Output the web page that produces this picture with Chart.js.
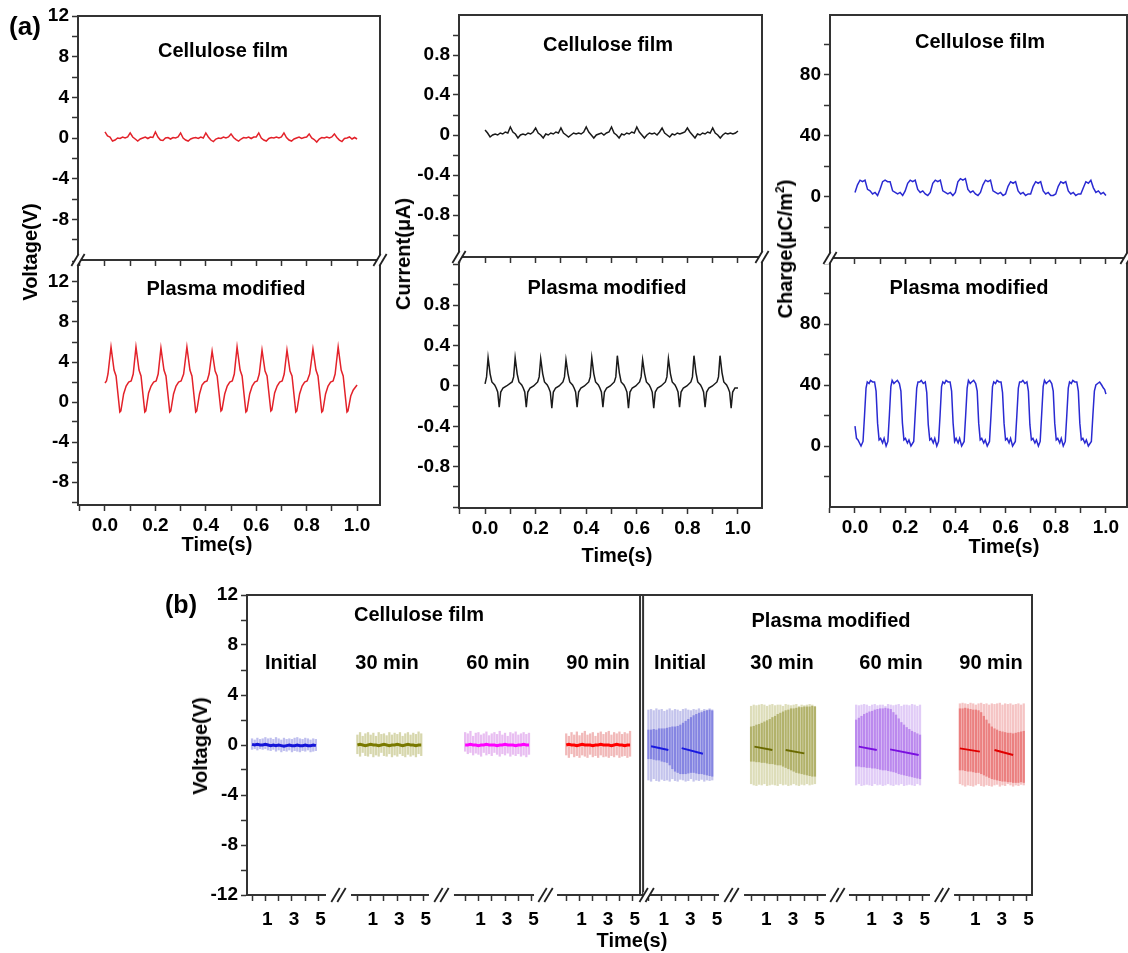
<!DOCTYPE html>
<html><head><meta charset="utf-8">
<script src="https://cdn.jsdelivr.net/npm/chart.js@4.4.1/dist/chart.umd.min.js"></script>
<style>
html,body{margin:0;padding:0;background:#fff;width:1128px;height:953px;overflow:hidden;position:relative;}
canvas{position:absolute;}
.t{position:absolute;font-family:'Liberation Sans',Arial,sans-serif;font-weight:bold;color:#000;white-space:nowrap;transform:translate(-50%,-50%);line-height:1;font-size:20px;z-index:5;}
.v{transform:translate(-50%,-50%) rotate(-90deg);}
sup{font-size:0.6em;vertical-align:0.7em;line-height:0;}
</style></head><body>
<div class="t" style="left:25px;top:26px;font-size:26px">(a)</div>
<div class="t" style="left:223px;top:50px">Cellulose film</div>
<div class="t" style="left:226px;top:288px">Plasma modified</div>
<div class="t" style="left:608px;top:44px">Cellulose film</div>
<div class="t" style="left:607px;top:287px">Plasma modified</div>
<div class="t" style="left:980px;top:41px">Cellulose film</div>
<div class="t" style="left:969px;top:287px">Plasma modified</div>
<div class="t v" style="left:30px;top:252px">Voltage(V)</div>
<div class="t v" style="left:403px;top:254px">Current(μA)</div>
<div class="t v" style="left:785px;top:249px">Charge(μC/m<sup>2</sup>)</div>
<div class="t" style="left:217px;top:544px">Time(s)</div>
<div class="t" style="left:617px;top:555px">Time(s)</div>
<div class="t" style="left:1004px;top:546px">Time(s)</div>
<div class="t" style="left:181px;top:604px;font-size:25px">(b)</div>
<div class="t" style="left:419px;top:614px">Cellulose film</div>
<div class="t" style="left:831px;top:620px">Plasma modified</div>
<div class="t" style="left:291px;top:662px">Initial</div>
<div class="t" style="left:387px;top:662px">30 min</div>
<div class="t" style="left:498px;top:662px">60 min</div>
<div class="t" style="left:598px;top:662px">90 min</div>
<div class="t" style="left:680px;top:662px">Initial</div>
<div class="t" style="left:782px;top:662px">30 min</div>
<div class="t" style="left:891px;top:662px">60 min</div>
<div class="t" style="left:991px;top:662px">90 min</div>
<div class="t v" style="left:200px;top:746px">Voltage(V)</div>
<div class="t" style="left:632px;top:940px">Time(s)</div>
<script>
// ================= DATA (a) =================
const timeGrid = Array.from({length:101}, (_, i) => +(i * 0.01).toFixed(2));
const cellVoltage = [0.6,0.2,0.1,-0.3,-0.2,0.0,-0.05,0.1,0.0,0.1,
 0.5,0.1,-0.1,-0.3,-0.1,0.0,0.1,-0.05,0.1,0.05,
 0.6,0.1,-0.2,-0.25,0.0,0.05,-0.1,0.05,0.0,0.1,
 0.5,0.0,-0.2,-0.3,-0.1,0.0,0.05,-0.05,0.1,0.0,
 0.5,0.1,-0.2,-0.35,-0.1,0.0,-0.05,0.1,0.0,0.1,
 0.4,0.05,-0.15,-0.3,-0.1,0.05,0.0,0.1,-0.05,0.1,
 0.1,0.5,0.0,-0.2,-0.3,-0.05,0.05,0.0,0.1,0.0,
 0.1,0.5,0.05,-0.2,-0.3,-0.1,0.0,0.1,-0.05,0.05,
 0.1,0.4,0.0,-0.15,-0.4,-0.1,0.05,0.0,0.1,0.0,
 0.1,0.4,0.05,-0.2,-0.35,-0.05,0.0,0.1,-0.1,0.05,
 -0.1];
const cellCurrent = [0.05,0.02,-0.02,0.0,0.01,0.0,0.02,0.01,0.03,0.02,
 0.08,0.03,0.01,-0.03,0.0,0.01,0.0,0.02,0.01,0.03,
 0.07,0.02,0.0,-0.03,0.01,0.0,0.02,0.01,0.03,0.02,
 0.07,0.02,0.0,-0.02,0.0,0.02,0.01,0.02,0.01,0.03,
 0.08,0.03,0.0,-0.03,0.0,0.01,0.02,0.0,0.02,0.03,
 0.08,0.02,0.0,-0.03,0.01,0.0,0.02,0.01,0.03,0.02,
 0.08,0.03,0.0,-0.03,0.0,0.02,0.01,0.02,0.0,0.03,
 0.07,0.02,0.0,-0.02,0.01,0.0,0.02,0.01,0.02,0.03,
 0.07,0.03,0.0,-0.03,0.01,0.0,0.02,0.01,0.03,0.02,
 0.07,0.02,0.0,-0.03,0.0,0.02,0.01,0.02,0.01,0.02,
 0.04];
const cellCharge = [3,8,11,10,11,5,4,2,3,1,
 5,10,11,10,10,4,3,2,3,1,
 4,9,11,10,11,5,3,4,2,1,
 3,9,11,10,11,4,3,2,3,1,
 3,10,12,11,12,5,3,4,2,1,
 3,8,11,10,11,4,3,2,3,1,
 2,7,10,9,10,4,2,3,1,2,
 2,7,10,9,10,4,2,3,1,1,
 2,7,10,9,10,4,2,3,1,2,
 2,6,10,9,11,6,3,4,2,3,
 1];
const plasmaVoltTime = [0.000,0.006,0.012,
 0.024,0.036,0.044,0.059,0.063,0.074,0.084,0.094,0.104,0.112,
 0.123,0.135,0.143,0.158,0.162,0.173,0.183,0.193,0.203,0.211,
 0.222,0.234,0.242,0.257,0.261,0.272,0.282,0.292,0.302,0.312,
 0.325,0.337,0.345,0.360,0.364,0.375,0.385,0.395,0.405,0.413,
 0.425,0.437,0.445,0.460,0.464,0.475,0.485,0.495,0.505,0.513,
 0.524,0.536,0.544,0.559,0.563,0.574,0.584,0.594,0.604,0.612,
 0.623,0.635,0.643,0.658,0.662,0.673,0.683,0.693,0.703,0.711,
 0.722,0.734,0.742,0.757,0.761,0.772,0.782,0.792,0.802,0.812,
 0.825,0.837,0.845,0.860,0.864,0.875,0.885,0.895,0.905,0.913,
 0.925,0.937,0.945,0.960,0.964,0.975,0.985,1.000];
const plasmaVoltValue = [1.9,2.1,2.8,
 5.5,3.2,2.6,-1.0,-0.9,0.8,1.6,2.0,2.1,2.8,
 5.5,3.2,2.6,-1.0,-0.9,0.9,1.6,2.0,2.1,2.8,
 5.4,3.2,2.6,-1.0,-0.9,0.8,1.6,2.0,2.1,2.8,
 5.5,3.2,2.6,-1.0,-0.9,0.8,1.7,2.0,2.1,2.8,
 5.1,3.1,2.6,-0.9,-0.8,0.8,1.6,2.0,2.1,2.8,
 5.5,3.2,2.6,-1.0,-0.9,0.8,1.6,2.0,2.1,2.8,
 5.2,3.1,2.6,-0.9,-0.8,0.9,1.6,2.0,2.1,2.8,
 5.2,3.1,2.6,-1.0,-0.9,0.8,1.6,2.0,2.1,2.8,
 5.3,3.2,2.6,-1.0,-0.9,0.8,1.6,2.0,2.1,2.8,
 5.5,3.2,2.6,-1.0,-0.9,0.6,1.2,1.7];
const plasmaCurrTime = [0.000,0.006,
 0.012,0.020,0.027,0.038,0.044,0.050,0.056,0.062,0.071,0.085,0.107,0.113,
 0.119,0.127,0.134,0.145,0.151,0.157,0.163,0.169,0.178,0.192,0.208,0.214,
 0.220,0.228,0.235,0.246,0.252,0.258,0.264,0.270,0.279,0.293,0.308,0.314,
 0.320,0.328,0.335,0.346,0.352,0.358,0.364,0.370,0.379,0.393,0.410,0.416,
 0.422,0.430,0.437,0.448,0.454,0.460,0.466,0.472,0.481,0.495,0.511,0.517,
 0.523,0.531,0.538,0.549,0.555,0.561,0.567,0.573,0.582,0.596,0.611,0.617,
 0.623,0.631,0.638,0.649,0.655,0.661,0.667,0.673,0.682,0.696,0.713,0.719,
 0.725,0.733,0.740,0.751,0.757,0.763,0.769,0.775,0.784,0.798,0.814,0.820,
 0.826,0.834,0.841,0.852,0.858,0.864,0.870,0.876,0.885,0.899,0.917,0.923,
 0.929,0.937,0.944,0.955,0.961,0.967,0.973,0.979,0.988,1.000];
const plasmaCurrValue = [0.02,0.09,
 0.28,0.12,0.04,0.01,-0.02,-0.06,-0.21,-0.06,-0.02,0.0,0.04,0.09,
 0.28,0.12,0.04,0.01,-0.02,-0.06,-0.21,-0.06,-0.02,0.0,0.04,0.09,
 0.27,0.12,0.04,0.01,-0.02,-0.06,-0.22,-0.06,-0.02,0.0,0.04,0.09,
 0.26,0.12,0.04,0.01,-0.02,-0.06,-0.21,-0.06,-0.02,0.0,0.04,0.09,
 0.28,0.12,0.04,0.01,-0.02,-0.06,-0.21,-0.06,-0.02,0.0,0.04,0.09,
 0.30,0.13,0.04,0.01,-0.02,-0.06,-0.22,-0.06,-0.02,0.0,0.04,0.09,
 0.26,0.12,0.04,0.01,-0.02,-0.06,-0.22,-0.06,-0.02,0.0,0.04,0.09,
 0.27,0.12,0.04,0.01,-0.02,-0.06,-0.21,-0.06,-0.02,0.0,0.04,0.09,
 0.30,0.13,0.04,0.01,-0.02,-0.06,-0.21,-0.06,-0.02,0.0,0.04,0.09,
 0.30,0.13,0.04,0.01,-0.02,-0.06,-0.22,-0.06,-0.02,-0.02];
const plasmaChargeTime = [0.000,0.006,0.012,0.018,0.024,
 0.032,0.038,0.044,0.049,0.056,0.062,0.070,0.078,0.084,0.090,0.096,0.102,0.110,0.116,0.124,
 0.131,0.137,0.143,0.148,0.155,0.161,0.169,0.177,0.183,0.189,0.195,0.201,0.209,0.215,0.223,
 0.234,0.240,0.246,0.251,0.258,0.264,0.272,0.280,0.286,0.292,0.298,0.304,0.312,0.318,0.326,
 0.333,0.339,0.345,0.350,0.357,0.363,0.371,0.379,0.385,0.391,0.397,0.403,0.411,0.417,0.425,
 0.435,0.441,0.447,0.452,0.459,0.465,0.473,0.481,0.487,0.493,0.499,0.505,0.513,0.519,0.527,
 0.536,0.542,0.548,0.553,0.560,0.566,0.574,0.582,0.588,0.594,0.600,0.606,0.614,0.620,0.628,
 0.639,0.645,0.651,0.656,0.663,0.669,0.677,0.685,0.691,0.697,0.703,0.709,0.717,0.723,0.731,
 0.738,0.744,0.750,0.755,0.762,0.768,0.776,0.784,0.790,0.796,0.802,0.808,0.816,0.822,0.830,
 0.838,0.844,0.850,0.855,0.862,0.868,0.876,0.884,0.890,0.896,0.902,0.908,0.916,0.922,0.930,
 0.942,0.948,0.954,0.960,0.967,0.975,0.983,0.990,0.995,1.000];
const plasmaChargeValue = [13,5,4,2,0,
 3,20,38,42,41,43,42,42,36,15,4,5,2,5,0,
 3,20,39,43,41,42,43,41,36,15,4,5,2,4,0,
 3,21,38,42,42,43,41,42,35,14,4,5,2,5,0,
 3,20,39,42,41,43,42,42,36,15,3,5,2,5,0,
 3,20,38,43,41,42,43,41,36,15,4,5,2,4,0,
 3,20,39,42,41,43,42,42,35,15,4,5,2,5,0,
 3,20,38,42,42,43,41,42,36,14,4,5,2,4,0,
 3,21,39,43,41,42,43,41,36,15,4,5,2,5,0,
 3,20,38,42,41,43,42,42,36,15,4,5,2,4,0,
 3,20,36,40,41,42,40,38,37,34];

// tick values / labels (a)
const timeTicks = [-0.1,0,0.1,0.2,0.3,0.4,0.5,0.6,0.7,0.8,0.9,1.0];
const timeTickLabels = [0,0.2,0.4,0.6,0.8,1.0];
const voltTicksTop = [-10,-8,-6,-4,-2,0,2,4,6,8,10,12];
const voltTicksBottom = [-10,-8,-6,-4,-2,0,2,4,6,8,10,12,14];
const voltTickLabels = [-8,-4,0,4,8,12];
const currTicksTop = [-1.0,-0.8,-0.6,-0.4,-0.2,0,0.2,0.4,0.6,0.8,1.0];
const currTicksBottom = [-1.2,-1.0,-0.8,-0.6,-0.4,-0.2,0,0.2,0.4,0.6,0.8,1.0,1.2];
const currTickLabels = [-0.8,-0.4,0,0.4,0.8];
const chargeTicksTop = [-20,0,20,40,60,80,100];
const chargeTicksBottom = [-20,0,20,40,60,80,100,120];
const chargeTickLabels = [0,40,80];

// ================= DATA (b) =================
const bTime = Array.from({length:25}, (_, i) => +(i * 0.2).toFixed(1));
const bCategories = ['Initial','30 min','60 min','90 min','Initial','30 min','60 min','90 min'];
const cellInitHi = [0.5,0.4,0.55,0.45,0.5,0.6,0.5,0.55,0.45,0.6,0.5,0.4,0.55,0.45,0.5,0.45,0.55,0.6,0.5,0.45,0.55,0.5,0.4,0.5,0.45];
const cellInitLo = [-0.35,-0.3,-0.4,-0.3,-0.35,-0.3,-0.4,-0.45,-0.35,-0.5,-0.4,-0.55,-0.45,-0.5,-0.4,-0.55,-0.45,-0.5,-0.55,-0.45,-0.5,-0.4,-0.55,-0.5,-0.45];
const cellInitMid = [0.05,0,0.05,0,0,0.05,0,-0.05,0,-0.05,0,-0.05,-0.1,-0.05,0,-0.05,-0.05,0,-0.05,-0.05,0,-0.05,-0.05,0,-0.05];
const cell30Hi = [0.8,1.0,0.7,0.9,1.0,0.8,0.95,0.7,1.0,0.85,0.9,0.75,1.0,0.8,0.95,0.85,1.0,0.7,0.9,1.0,0.8,0.95,0.85,1.05,0.9];
const cell30Lo = [-0.7,-0.9,-0.6,-0.85,-0.9,-0.7,-0.95,-0.8,-0.9,-0.6,-0.85,-0.9,-0.7,-0.95,-0.8,-0.9,-0.7,-0.85,-0.95,-0.75,-0.9,-0.8,-0.95,-0.7,-0.85];
const cell30Mid = [0,0.05,0,-0.05,0,0.05,0,0,-0.05,0,0.05,0,-0.05,0,0,0.05,0,-0.05,0,0.05,0,0,-0.05,0,0];
const cell60Hi = [1.0,0.9,1.1,0.7,0.95,1.0,0.8,0.9,1.05,0.75,0.9,1.0,0.85,1.1,0.8,0.95,0.7,1.0,0.9,1.05,0.8,0.9,1.0,0.85,0.95];
const cell60Lo = [-0.5,-0.7,-0.6,-0.8,-0.65,-0.75,-0.9,-0.6,-0.8,-0.7,-0.85,-0.6,-0.75,-0.9,-0.7,-0.8,-0.65,-0.9,-0.75,-0.85,-0.7,-0.9,-0.8,-0.95,-0.75];
const cell60Mid = [0,0,0.05,0,0,-0.05,0,0,0.05,0,0,0,-0.05,0,0,0.05,0,0,0,-0.05,0,0,0.05,0,0];
const cell90Hi = [0.9,0.7,1.0,0.8,1.05,0.75,0.95,1.1,0.8,0.9,1.0,0.7,0.95,1.05,0.85,1.0,1.1,0.8,1.0,0.9,1.05,0.85,1.0,0.9,1.1];
const cell90Lo = [-0.8,-1.0,-0.7,-0.95,-0.85,-1.0,-0.8,-0.9,-1.0,-0.75,-0.95,-0.85,-1.0,-0.8,-0.95,-0.9,-1.0,-0.85,-0.95,-0.8,-1.0,-0.9,-0.85,-1.0,-0.9];
const cell90Mid = [0,0.05,0,0,-0.05,0,0.05,0,0,0,-0.05,0,0,0.05,0,0,0,-0.05,0,0.05,0,0,-0.05,0,0];
const plasmaInitHi = [2.8,2.85,2.75,2.9,2.8,2.85,2.7,2.8,2.9,2.75,2.85,2.8,2.7,2.85,2.9,2.8,2.75,2.85,2.8,2.9,2.75,2.85,2.8,2.9,2.7];
const plasmaInitLo = [-2.8,-2.9,-2.7,-2.85,-2.9,-2.75,-2.85,-2.8,-2.9,-2.7,-2.85,-2.9,-2.75,-2.8,-2.9,-2.85,-2.7,-2.9,-2.8,-2.85,-2.75,-2.9,-2.8,-2.85,-2.8];
const plasmaInitDarkHi = [1.2,1.2,1.25,1.2,1.3,1.3,1.3,1.35,1.4,1.45,1.45,1.5,1.6,1.75,1.9,2.05,2.2,2.35,2.45,2.55,2.6,2.7,2.75,2.8,2.8];
const plasmaInitDarkLo = [-1.1,-1.1,-1.15,-1.2,-1.2,-1.3,-1.35,-1.4,-1.6,-1.9,-2.1,-2.2,-2.3,-2.3,-2.3,-2.25,-2.2,-2.2,-2.25,-2.3,-2.3,-2.35,-2.4,-2.45,-2.5];
const plasmaInitDashT = [0.2,1.5,2.0,2.5,4.1];
const plasmaInitDashV = [-0.1,-0.4,null,-0.25,-0.7];
const plasma30Hi = [3.1,3.2,3.15,3.2,3.25,3.2,3.1,3.2,3.25,3.15,3.2,3.2,3.1,3.25,3.2,3.15,3.2,3.25,3.1,3.2,3.15,3.2,3.25,3.2,3.1];
const plasma30Lo = [-3.1,-3.2,-3.25,-3.15,-3.2,-3.1,-3.25,-3.2,-3.15,-3.2,-3.25,-3.1,-3.2,-3.15,-3.25,-3.2,-3.1,-3.2,-3.25,-3.15,-3.2,-3.1,-3.2,-3.15,-3.1];
const plasma30DarkHi = [1.45,1.5,1.6,1.65,1.75,1.85,1.95,2.05,2.2,2.3,2.45,2.55,2.65,2.75,2.8,2.9,2.9,2.95,3.0,3.0,3.05,3.05,3.05,3.1,3.05];
const plasma30DarkLo = [-1.3,-1.3,-1.35,-1.35,-1.4,-1.4,-1.45,-1.5,-1.5,-1.55,-1.6,-1.6,-1.7,-1.8,-1.9,-2.0,-2.1,-2.2,-2.25,-2.3,-2.35,-2.4,-2.45,-2.5,-2.5];
const plasma30DashT = [0.25,1.6,2.1,2.6,4.0];
const plasma30DashV = [-0.13,-0.4,null,-0.4,-0.67];
const plasma60Hi = [3.2,3.15,3.2,3.25,3.2,3.1,3.2,3.25,3.15,3.2,3.2,3.1,3.25,3.2,3.15,3.2,3.25,3.1,3.2,3.2,3.15,3.25,3.2,3.1,3.2];
const plasma60Lo = [-3.2,-3.1,-3.25,-3.2,-3.15,-3.2,-3.25,-3.1,-3.2,-3.15,-3.25,-3.2,-3.1,-3.2,-3.25,-3.15,-3.2,-3.1,-3.25,-3.2,-3.15,-3.2,-3.25,-3.1,-3.2];
const plasma60DarkHi = [2.0,2.15,2.3,2.45,2.55,2.65,2.7,2.8,2.85,2.9,2.9,2.95,2.9,2.85,2.6,2.4,2.1,1.8,1.6,1.4,1.25,1.1,1.0,0.9,0.8];
const plasma60DarkLo = [-1.7,-1.7,-1.75,-1.75,-1.8,-1.8,-1.85,-1.85,-1.9,-1.95,-2.0,-2.0,-2.05,-2.1,-2.15,-2.2,-2.3,-2.35,-2.4,-2.45,-2.5,-2.55,-2.6,-2.65,-2.7];
const plasma60DashT = [0.2,1.55,2.0,2.55,4.7];
const plasma60DashV = [-0.13,-0.4,null,-0.35,-0.8];
const plasma90Hi = [3.3,3.35,3.3,3.25,3.35,3.3,3.2,3.3,3.35,3.25,3.3,3.2,3.3,3.25,3.3,3.35,3.2,3.3,3.25,3.3,3.2,3.25,3.3,3.2,3.3];
const plasma90Lo = [-3.1,-3.2,-3.3,-3.2,-3.25,-3.3,-3.2,-3.1,-3.25,-3.3,-3.2,-3.25,-3.3,-3.2,-3.15,-3.3,-3.2,-3.25,-3.1,-3.2,-3.3,-3.2,-3.25,-3.15,-3.2];
const plasma90DarkHi = [2.9,2.9,2.95,2.9,2.85,2.8,2.8,2.75,2.6,2.3,2.0,1.7,1.45,1.3,1.2,1.1,1.05,1.0,0.95,0.95,0.9,0.95,1.0,1.05,1.1];
const plasma90DarkLo = [-2.0,-2.0,-2.05,-2.1,-2.1,-2.15,-2.2,-2.2,-2.3,-2.4,-2.5,-2.6,-2.7,-2.75,-2.8,-2.85,-2.9,-2.9,-2.95,-2.95,-3.0,-3.0,-3.0,-2.95,-3.0];
const plasma90DashT = [0.0,1.5,2.0,2.6,4.0];
const plasma90DashV = [-0.27,-0.53,null,-0.4,-0.8];
const bVoltTicks = [-12,-10,-8,-6,-4,-2,0,2,4,6,8,10,12];
const bVoltTickLabels = [-12,-8,-4,0,4,8,12];
const bTimeTicks = [0,1,2,3,4,5];
const bTimeTickLabels = [1,3,5];

// ================= LAYOUT / STYLE =================
const FONT = "'Liberation Sans', Arial, sans-serif";
const PAD = {l:70, r:20, t:20, b:45};
const AXC = '#333';
Chart.defaults.font.family = FONT;

function pts(ts, vs) { return ts.map((t, i) => ({x: t, y: vs[i]})); }

function slash(ctx, x, y, h) {
  const w = h * 0.6;
  ctx.save();
  ctx.fillStyle = '#fff';
  ctx.beginPath();
  ctx.moveTo(x - 3 - w, y + h); ctx.lineTo(x - 3 + w, y - h);
  ctx.lineTo(x + 3 + w, y - h); ctx.lineTo(x + 3 - w, y + h);
  ctx.closePath(); ctx.fill();
  ctx.strokeStyle = '#222'; ctx.lineWidth = 1.8;
  [-3, 3].forEach(d => { ctx.beginPath(); ctx.moveTo(x + d - w, y + h); ctx.lineTo(x + d + w, y - h); ctx.stroke(); });
  ctx.restore();
}

const decor = {
  id: 'decor',
  afterDraw(chart, args, o) {
    const ctx = chart.ctx, a = chart.chartArea, X = v => chart.scales.x.getPixelForValue(v);
    ctx.save();
    ctx.strokeStyle = AXC; ctx.lineWidth = 2;
    const line = (x0, y0, x1, y1) => { ctx.beginPath(); ctx.moveTo(x0, y0); ctx.lineTo(x1, y1); ctx.stroke(); };
    if (o.top) line(a.left - 1, a.top, a.right + 1, a.top);
    if (o.right) line(a.right, a.top, a.right, a.bottom);
    (o.vlines || []).forEach(v => line(X(v), a.top, X(v), a.bottom));
    (o.gaps || []).forEach(([g0, g1]) => {
      ctx.fillStyle = '#fff';
      ctx.fillRect(X(g0), a.bottom - 3, X(g1) - X(g0), 6);
      slash(ctx, (X(g0) + X(g1)) / 2, a.bottom, 7);
    });
    (o.corners || []).forEach(c => slash(ctx, c === 'l' ? a.left : a.right, a.top, 6));
    ctx.restore();
  }
};

function linAxis(o) {
  return {
    type: 'linear', position: o.pos, min: o.min, max: o.max, offset: false,
    afterBuildTicks: s => { s.ticks = o.ticks.map(v => ({value: v})); },
    afterFit: s => { if (o.pos === 'left') s.width = PAD.l; else s.height = PAD.b; },
    ticks: {
      autoSkip: false, maxRotation: 0, minRotation: 0, padding: o.padding ?? 3, color: '#000',
      labelOffset: o.labelOffset ?? 0,
      font: {family: FONT, size: 19, weight: 'bold'},
      callback: v => { const hit = o.labels.find(l => Math.abs(l - v) < 1e-6); return hit === undefined ? '' : o.fmt(hit); }
    },
    grid: {display: true, drawOnChartArea: false, drawTicks: true, tickLength: 6, tickWidth: 1.5, tickColor: AXC, offset: false},
    border: {display: true, color: AXC, width: 2}
  };
}

function mkCanvas(box) {
  const c = document.createElement('canvas');
  const W = box.r - box.l + PAD.l + PAD.r, H = box.b - box.t + PAD.t + PAD.b;
  c.width = W; c.height = H;
  c.style.width = W + 'px'; c.style.height = H + 'px';
  c.style.left = (box.l - PAD.l) + 'px'; c.style.top = (box.t - PAD.t) + 'px';
  document.body.appendChild(c);
  return c;
}

function panel(p) {
  const c = mkCanvas(p.box);
  return new Chart(c, {
    type: 'line',
    data: {datasets: [{data: p.data, borderColor: p.color, borderWidth: 1.5, pointRadius: 0, tension: 0, fill: false}]},
    options: {
      responsive: false, animation: false, devicePixelRatio: 1, events: [],
      layout: {padding: {left: 0, top: PAD.t, right: PAD.r, bottom: 0}},
      plugins: {legend: {display: false}, tooltip: {enabled: false}, decor: p.decor},
      scales: {
        x: linAxis({pos: 'bottom', min: p.xMin, max: p.xMax, ticks: timeTicks, labels: p.showX ? timeTickLabels : [], fmt: v => v.toFixed(1)}),
        y: linAxis({pos: 'left', min: p.yMin, max: p.yMax, ticks: p.yTicks, labels: p.yLabels, fmt: p.yFmt})
      }
    },
    plugins: [decor]
  });
}

const fmtInt = v => String(v);
const fmtCurr = v => v === 0 ? '0' : v.toFixed(1);
const RED = '#e3222a', BLACK = '#1a1a1a', BLUE = '#2a2ad2';

// top row (cellulose)
panel({box: {l: 78, t: 16, r: 380, b: 260}, xMin: -0.107, xMax: 1.091, yMin: -12, yMax: 12, yTicks: voltTicksTop, yLabels: voltTickLabels, yFmt: fmtInt, showX: false, data: pts(timeGrid, cellVoltage), color: RED, decor: {top: true, right: true}});
panel({box: {l: 459, t: 15, r: 762, b: 257}, xMin: -0.103, xMax: 1.095, yMin: -1.22, yMax: 1.2, yTicks: currTicksTop, yLabels: currTickLabels, yFmt: fmtCurr, showX: false, data: pts(timeGrid, cellCurrent), color: BLACK, decor: {top: true, right: true}});
panel({box: {l: 830, t: 15, r: 1127, b: 258}, xMin: -0.0996, xMax: 1.084, yMin: -40, yMax: 119.3, yTicks: chargeTicksTop, yLabels: chargeTickLabels, yFmt: fmtInt, showX: false, data: pts(timeGrid, cellCharge), color: BLUE, decor: {top: true, right: true}});
// bottom row (plasma)
panel({box: {l: 78, t: 260, r: 380, b: 505}, xMin: -0.107, xMax: 1.091, yMin: -10.3, yMax: 14.2, yTicks: voltTicksBottom, yLabels: voltTickLabels, yFmt: fmtInt, showX: true, data: pts(plasmaVoltTime, plasmaVoltValue), color: RED, decor: {right: true, corners: ['l', 'r']}});
panel({box: {l: 459, t: 257, r: 762, b: 508}, xMin: -0.103, xMax: 1.095, yMin: -1.208, yMax: 1.277, yTicks: currTicksBottom, yLabels: currTickLabels, yFmt: fmtCurr, showX: true, data: pts(plasmaCurrTime, plasmaCurrValue), color: BLACK, decor: {right: true, corners: ['l', 'r']}});
panel({box: {l: 830, t: 258, r: 1127, b: 507}, xMin: -0.0996, xMax: 1.084, yMin: -40, yMax: 123.3, yTicks: chargeTicksBottom, yLabels: chargeTickLabels, yFmt: fmtInt, showX: true, data: pts(plasmaChargeTime, plasmaChargeValue), color: BLUE, decor: {right: true, corners: ['l', 'r']}});

// ================= (b) =================
const segmentOffset = [0.38, 8.3, 16.4, 24.0, 30.18, 37.9, 45.8, 53.6];
const segs = [
  {hi: cellInitHi, lo: cellInitLo, mid: cellInitMid, line: '#1515d8', light: 'rgba(100,100,215,0.42)'},
  {hi: cell30Hi, lo: cell30Lo, mid: cell30Mid, line: '#7a7a00', light: 'rgba(150,150,40,0.38)'},
  {hi: cell60Hi, lo: cell60Lo, mid: cell60Mid, line: '#ff00ff', light: 'rgba(205,110,225,0.45)'},
  {hi: cell90Hi, lo: cell90Lo, mid: cell90Mid, line: '#ff0000', light: 'rgba(220,80,80,0.40)'},
  {hi: plasmaInitHi, lo: plasmaInitLo, dhi: plasmaInitDarkHi, dlo: plasmaInitDarkLo, dt: plasmaInitDashT, dv: plasmaInitDashV, line: '#1a1ae0', light: 'rgba(100,100,205,0.38)', dark: 'rgba(70,70,215,0.5)'},
  {hi: plasma30Hi, lo: plasma30Lo, dhi: plasma30DarkHi, dlo: plasma30DarkLo, dt: plasma30DashT, dv: plasma30DashV, line: '#6a6a00', light: 'rgba(160,160,60,0.36)', dark: 'rgba(135,135,30,0.5)'},
  {hi: plasma60Hi, lo: plasma60Lo, dhi: plasma60DarkHi, dlo: plasma60DarkLo, dt: plasma60DashT, dv: plasma60DashV, line: '#7a10e0', light: 'rgba(175,120,235,0.38)', dark: 'rgba(150,70,230,0.5)'},
  {hi: plasma90Hi, lo: plasma90Lo, dhi: plasma90DarkHi, dlo: plasma90DarkLo, dt: plasma90DashT, dv: plasma90DashV, line: '#e00000', light: 'rgba(230,100,100,0.38)', dark: 'rgba(225,60,60,0.5)'}
];
const bDatasets = [];
segs.forEach((s, k) => {
  const off = segmentOffset[k];
  if (s.mid) bDatasets.push({type: 'line', order: 0, data: bTime.map((t, i) => ({x: off + t, y: s.mid[i]})), borderColor: s.line, borderWidth: 3, pointRadius: 0, tension: 0});
  if (s.dv) bDatasets.push({type: 'line', order: 0, data: s.dt.map((t, i) => ({x: off + t, y: s.dv[i]})), borderColor: s.line, borderWidth: 2, pointRadius: 0, tension: 0, spanGaps: false});
  if (s.dhi) bDatasets.push({type: 'bar', order: 1, grouped: false, barThickness: 1.6, borderWidth: 0, backgroundColor: s.dark, data: bTime.map((t, i) => ({x: off + t, y: [s.dlo[i], s.dhi[i]]}))});
  bDatasets.push({type: 'bar', order: 2, grouped: false, barThickness: 1.6, borderWidth: 0, backgroundColor: s.light, data: bTime.map((t, i) => ({x: off + t, y: [s.lo[i], s.hi[i]]}))});
});
const bTickValues = [];
segmentOffset.forEach(off => bTimeTicks.forEach(t => bTickValues.push(+(off + t).toFixed(3))));
const bBox = {l: 247, t: 595, r: 1032, b: 895};
const bx = linAxis({pos: 'bottom', min: 0, max: 59.02, ticks: bTickValues, labels: [], fmt: fmtInt, padding: 7, labelOffset: 2});
bx.ticks.callback = v => {
  for (const off of segmentOffset) {
    const t = Math.round((v - off) * 1000) / 1000;
    if (t >= -0.01 && t <= 5.01) { const r = Math.round(t); return bTimeTickLabels.includes(r) ? String(r) : ''; }
  }
  return '';
};
new Chart(mkCanvas(bBox), {
  type: 'bar',
  data: {datasets: bDatasets},
  options: {
    responsive: false, animation: false, devicePixelRatio: 1, events: [],
    layout: {padding: {left: 0, top: PAD.t, right: PAD.r, bottom: 0}},
    plugins: {legend: {display: false}, tooltip: {enabled: false},
      decor: {top: true, right: true, vlines: [29.55, 29.78],
        gaps: [[5.94, 7.82], [13.68, 15.56], [21.58, 23.31], [29.8, 30.3], [35.49, 37.37], [43.53, 45.26], [51.35, 53.16]]}},
    scales: {
      x: bx,
      y: linAxis({pos: 'left', min: -12, max: 12, ticks: bVoltTicks, labels: bVoltTickLabels, fmt: fmtInt})
    }
  },
  plugins: [decor]
});
</script>
</body></html>
